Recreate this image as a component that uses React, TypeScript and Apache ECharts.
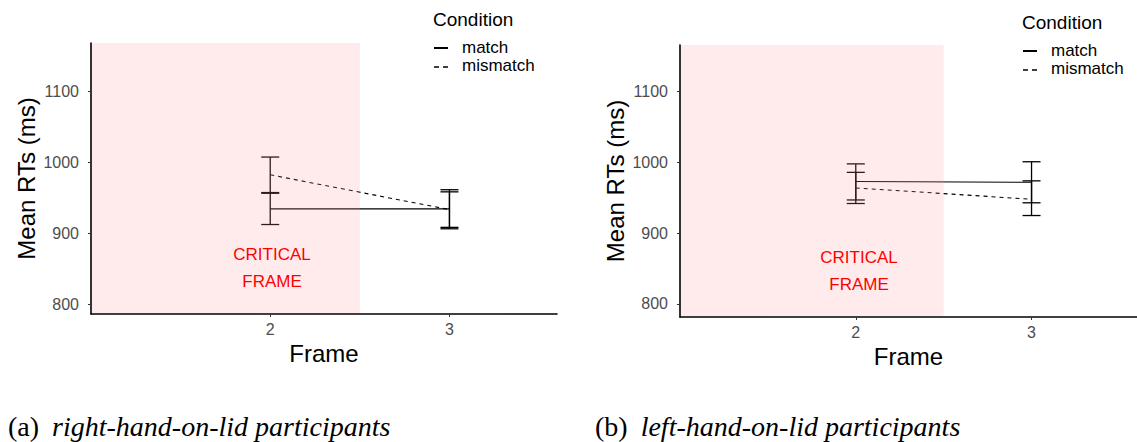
import React, { useEffect, useRef } from "react";
import * as echarts from "echarts";

const frames = [2, 3];
const yTicks = [800, 900, 1000, 1100];
const xTicks = [2, 3];
const shadeEnd = 2.5;

// Panel (a): right-hand-on-lid
const aMatch = [934, 934];
const aMatchLo = [912, 908];
const aMatchHi = [956, 958];
const aMismatch = [982, 933];
const aMismatchLo = [957, 906];
const aMismatchHi = [1007, 961];

// Panel (b): left-hand-on-lid
const bMatch = [973, 972];
const bMatchLo = [947, 943];
const bMatchHi = [998, 1001];
const bMismatch = [964, 948];
const bMismatchLo = [942, 925];
const bMismatchHi = [986, 974];

const captions = ["(a)", "(b)"];
const captionTexts = ["right-hand-on-lid participants", "left-hand-on-lid participants"];

const SANS = "'Liberation Sans', Arial, sans-serif";
const SERIF = "'Liberation Serif', 'Times New Roman', serif";

export default function App() {
  const ref = useRef<HTMLDivElement>(null);
  useEffect(() => {
    if (!ref.current) return;
    const chart = echarts.init(ref.current, null, { renderer: "svg" });

    const pairs = (ys: number[]) => frames.map((f, i) => [f, ys[i]]);
    const bars = (lo: number[], hi: number[]) => frames.map((f, i) => [f, lo[i], hi[i]]);

    const errRender = (params: any, api: any) => {
      const x = api.value(0);
      const pLo = api.coord([x, api.value(1)]);
      const pHi = api.coord([x, api.value(2)]);
      const w = 9;
      const st = { stroke: "#000", lineWidth: 1.3 };
      return {
        type: "group",
        children: [
          { type: "line", shape: { x1: pLo[0], y1: pLo[1], x2: pHi[0], y2: pHi[1] }, style: st },
          { type: "line", shape: { x1: pLo[0] - w, y1: pLo[1], x2: pLo[0] + w, y2: pLo[1] }, style: st },
          { type: "line", shape: { x1: pHi[0] - w, y1: pHi[1], x2: pHi[0] + w, y2: pHi[1] }, style: st },
        ],
      };
    };

    const shadeRender = (params: any, api: any) => {
      const cs = params.coordSys;
      const end = api.coord([api.value(0), cs.y])[0];
      return {
        type: "rect",
        silent: true,
        shape: { x: cs.x + 1, y: cs.y, width: end - cs.x - 1, height: cs.height - 1 },
        style: { fill: "rgba(255,150,150,0.19)" },
      };
    };

    const grids = [
      { left: 91, top: 43, width: 466, height: 271 },
      { left: 680, top: 45, width: 466, height: 272 },
    ];
    const yRanges = [
      [786, 1167.6],
      [781.6, 1166],
    ];

    const labelStyle = { color: "#4d4d4d", fontSize: 16, fontFamily: SANS };

    const xAxis = grids.map((_, i) => ({
      type: "value",
      gridIndex: i,
      min: 1,
      max: 3.6,
      axisLine: { show: true, lineStyle: { color: "#000", width: 1.6 } },
      axisTick: { show: true, length: 3, lineStyle: { color: "#333" }, customValues: xTicks },
      axisLabel: { ...labelStyle, margin: 7, customValues: xTicks, formatter: (v: number) => String(v) },
      splitLine: { show: false },
      name: "Frame",
      nameLocation: "middle",
      nameGap: 27,
      nameTextStyle: { color: "#000", fontSize: 24, fontFamily: SANS },
    }));
    const yAxis = grids.map((_, i) => ({
      type: "value",
      gridIndex: i,
      min: yRanges[i][0],
      max: yRanges[i][1],
      axisLine: { show: true, lineStyle: { color: "#000", width: 1.6 } },
      axisTick: { show: true, length: 3, lineStyle: { color: "#333" }, customValues: yTicks },
      axisLabel: { ...labelStyle, margin: 12, customValues: yTicks, formatter: (v: number) => String(v) },
      splitLine: { show: false },
      name: "Mean RTs (ms)",
      nameLocation: "middle",
      nameGap: 53,
      nameTextStyle: { color: "#000", fontSize: 24, fontFamily: SANS },
    }));

    const panels = [
      { m: aMatch, mLo: aMatchLo, mHi: aMatchHi, mm: aMismatch, mmLo: aMismatchLo, mmHi: aMismatchHi },
      { m: bMatch, mLo: bMatchLo, mHi: bMatchHi, mm: bMismatch, mmLo: bMismatchLo, mmHi: bMismatchHi },
    ];

    const series: any[] = [];
    panels.forEach((p, i) => {
      const ax = { xAxisIndex: i, yAxisIndex: i };
      series.push({
        type: "line", name: "match", ...ax, data: pairs(p.m), symbol: "none",
        lineStyle: { color: "#000", width: 1.1 }, z: 2,
      });
      series.push({
        type: "line", name: "mismatch", ...ax, data: pairs(p.mm), symbol: "none",
        lineStyle: { color: "#000", width: 1.1, type: [4, 4] }, z: 2,
      });
      series.push({ type: "custom", name: "match", ...ax, data: bars(p.mLo, p.mHi), renderItem: errRender, encode: { x: 0, y: [1, 2] }, z: 2 });
      series.push({ type: "custom", name: "mismatch", ...ax, data: bars(p.mmLo, p.mmHi), renderItem: errRender, encode: { x: 0, y: [1, 2] }, z: 2 });
      series.push({ type: "custom", name: "shade", ...ax, data: [[shadeEnd]], renderItem: shadeRender, encode: { x: 0 }, z: 5, silent: true });
    });

    const legendAt = (x: number, y: number) => [
      { type: "text", left: x, top: y, style: { text: "Condition", fontSize: 19, fontFamily: SANS, fill: "#000" } },
      { type: "line", shape: { x1: x + 1, y1: y + 38, x2: x + 15, y2: y + 38 }, style: { stroke: "#000", lineWidth: 2 } },
      { type: "line", shape: { x1: x + 1, y1: y + 57, x2: x + 15, y2: y + 57 }, style: { stroke: "#000", lineWidth: 1.3, lineDash: [5, 4] } },
      { type: "text", left: x + 29, top: y + 29, style: { text: "match", fontSize: 17, fontFamily: SANS, fill: "#000" } },
      { type: "text", left: x + 29, top: y + 47, style: { text: "mismatch", fontSize: 17, fontFamily: SANS, fill: "#000" } },
    ];
    const critAt = (cx: number, cy: number) => ({
      type: "text", x: cx, y: cy, z: 10,
      style: { text: "CRITICAL\nFRAME", fontSize: 17, lineHeight: 27, fontFamily: SANS, fill: "#ff0000", align: "center", verticalAlign: "middle" },
    });
    const captionAt = (x: number, i: number) => ({
      type: "text", left: x, top: 412,
      style: {
        text: `{n|${captions[i]}}{it|${captionTexts[i]}}`,
        rich: {
          n: { fontFamily: SERIF, fontSize: 28, fill: "#000", padding: [0, 13, 0, 0] },
          it: { fontFamily: SERIF, fontSize: 28, fontStyle: "italic", fill: "#000" },
        },
      },
    });

    chart.setOption({
      animation: false,
      backgroundColor: "#fff",
      textStyle: { fontFamily: SANS, fontSize: 16 },
      grid: grids,
      xAxis,
      yAxis,
      series,
      graphic: [
        ...legendAt(433, 10),
        ...legendAt(1022, 13),
        critAt(272, 268),
        critAt(859, 271),
        captionAt(8, 0),
        captionAt(595, 1),
      ],
    });
    return () => chart.dispose();
  }, []);
  return <div ref={ref} style={{ position: "absolute", left: 0, top: 0, width: 1137, height: 442 }} />;
}
